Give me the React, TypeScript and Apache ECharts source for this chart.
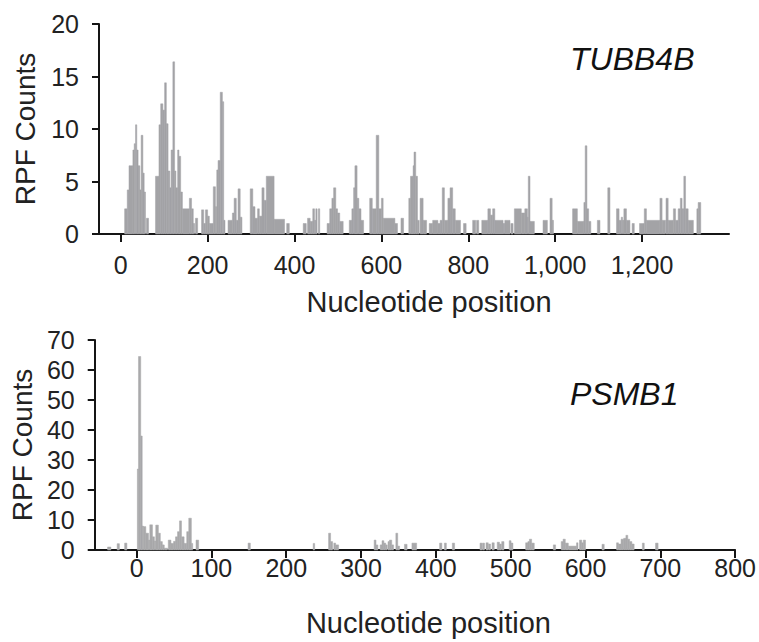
import React, { useEffect, useRef } from "react";
import * as echarts from "echarts";

// Tick values
const tubbTicks = [0, 200, 400, 600, 800, 1000, 1200];
const psmbTicks = [0, 100, 200, 300, 400, 500, 600, 700, 800];

// Gene names
const topGene = "TUBB4B";
const bottomGene = "PSMB1";

// RPF counts for TUBB4B: [start nt, end nt, count]
const tubbCounts: [number, number, number][] = [
  [9, 15, 2.4], [15, 19, 4.2], [19, 28, 6.5], [28, 31, 8.0], [31, 34, 8.6], [34, 37, 10.4], [37, 40, 8.0],
  [40, 44, 6.5], [44, 47, 4.2], [47, 51, 9.4], [51, 54, 5.8], [54, 57, 4.0], [59, 64, 1.5],
  [80, 88, 5.5], [88, 92, 10.4], [92, 97, 12.4], [97, 101, 11.8], [101, 105, 14.4], [105, 109, 10.5],
  [109, 113, 6.0], [113, 116, 4.4], [116, 120, 8.0], [120, 124, 16.4], [124, 127, 6.0], [127, 131, 4.4],
  [131, 134, 8.0], [134, 138, 7.4], [138, 142, 4.0], [142, 158, 2.4], [158, 163, 3.4], [163, 167, 2.4],
  [167, 170, 1.0], [172, 177, 1.5],
  [186, 191, 2.3], [191, 195, 1.0], [195, 200, 2.3], [200, 204, 1.7], [204, 213, 1.0], [213, 218, 4.5],
  [218, 221, 2.6], [221, 224, 6.1], [224, 229, 7.0], [229, 234, 13.5], [234, 237, 12.6], [237, 240, 1.3],
  [247, 257, 1.3], [257, 261, 2.0], [261, 266, 3.4], [266, 270, 1.3], [270, 275, 4.3], [275, 279, 1.6],
  [298, 304, 4.3], [304, 309, 2.6], [309, 315, 1.5], [315, 319, 2.4], [319, 325, 1.7], [325, 330, 4.4],
  [330, 335, 3.2], [335, 353, 5.5], [353, 377, 1.4], [382, 388, 1.0],
  [420, 427, 1.0], [430, 436, 1.5], [436, 442, 1.2], [442, 446, 2.4], [446, 449, 1.3], [449, 452, 2.4],
  [455, 458, 2.4],
  [475, 481, 1.0], [481, 486, 2.4], [486, 490, 3.4], [490, 495, 4.4], [495, 499, 2.4], [499, 504, 2.0],
  [504, 512, 1.2],
  [526, 532, 1.3], [532, 536, 2.4], [536, 539, 4.4], [539, 544, 6.5], [544, 548, 3.4], [548, 553, 2.4],
  [553, 559, 1.3],
  [573, 579, 3.4], [579, 588, 2.4], [588, 594, 9.4], [594, 600, 2.4], [600, 604, 3.4], [604, 631, 1.5],
  [631, 637, 1.0], [645, 651, 1.5],
  [663, 667, 3.4], [667, 673, 5.5], [673, 675, 6.5], [675, 679, 7.8], [679, 683, 5.5], [683, 687, 1.3],
  [689, 696, 3.4], [696, 704, 1.3],
  [710, 718, 1.0], [718, 730, 1.3], [730, 735, 1.0], [735, 740, 1.3], [740, 745, 4.4], [745, 753, 1.3],
  [753, 758, 3.4], [758, 764, 4.4], [764, 770, 2.4], [770, 782, 1.3], [789, 795, 1.0],
  [810, 817, 1.3], [819, 824, 1.3], [831, 845, 1.3], [845, 851, 2.4], [851, 856, 1.8], [856, 861, 2.4],
  [861, 880, 1.3], [880, 884, 1.0], [884, 896, 1.3], [898, 903, 1.0], [906, 922, 2.4], [922, 930, 2.0],
  [930, 936, 2.4], [936, 938, 1.6], [938, 942, 5.5], [942, 952, 1.2],
  [972, 982, 1.3], [988, 993, 3.4], [993, 996, 1.3],
  [1040, 1051, 2.4], [1051, 1066, 1.2], [1066, 1069, 3.0], [1069, 1073, 8.4], [1073, 1077, 2.4],
  [1077, 1082, 1.2], [1097, 1103, 1.3], [1121, 1126, 4.4],
  [1141, 1147, 2.4], [1147, 1152, 1.3], [1152, 1155, 1.6], [1155, 1158, 1.3], [1158, 1164, 2.4],
  [1164, 1172, 1.3], [1177, 1182, 1.0],
  [1194, 1205, 1.0], [1205, 1210, 2.4], [1210, 1241, 1.3], [1241, 1246, 3.4], [1246, 1254, 1.3],
  [1255, 1260, 3.4], [1260, 1272, 1.3], [1272, 1277, 2.4], [1277, 1283, 1.3], [1283, 1288, 2.4],
  [1288, 1292, 3.4], [1292, 1296, 2.4], [1296, 1300, 5.5], [1300, 1306, 2.4], [1306, 1318, 1.3],
  [1326, 1329, 2.4], [1329, 1335, 3.0],
];

// RPF counts for PSMB1: [start nt, end nt, count]
const psmbCounts: [number, number, number][] = [
  [-38.8, -34.4, 1.0], [-26, -23, 2.1], [-16, -13, 2.3],
  [1, 2.5, 27], [2.5, 5.5, 64.5], [5.5, 7.5, 38], [7.5, 9, 8], [9, 12.3, 7.8], [12.3, 15.9, 5.6],
  [15.9, 17.6, 3.3], [17.6, 21.2, 8.4], [21.2, 23.8, 4.4], [23.8, 25.6, 3.0], [25.6, 29.1, 8.3],
  [29.1, 31.7, 5.6], [31.7, 34.4, 2.8], [34.4, 37, 1.7], [37, 41.4, 0.6], [42.3, 45.9, 3.3],
  [45.9, 49.4, 2.2], [49.4, 52, 2.9], [52, 54.7, 4.4], [54.7, 57.3, 6.1], [57.3, 60, 9.7],
  [60, 63.5, 4.4], [63.5, 67, 2.2], [67, 69.7, 6.1], [69.7, 73.2, 10.6], [73.2, 75, 2.2],
  [79.4, 82.9, 3.3],
  [149, 152, 2.3], [236, 238, 2.2], [256.6, 259.3, 5.6], [259.3, 262, 2.8], [263.6, 266, 2.3],
  [266, 270, 1.7],
  [317.5, 320, 3.3], [320, 322.5, 1.7], [325.5, 328, 1.7], [328, 330.5, 3.1], [330.5, 333, 2.3],
  [333, 335, 1.7], [336, 338, 2.8], [338, 341, 3.3], [341, 343.5, 1.7], [346.5, 349, 5.6],
  [349, 351.5, 1.3], [358, 361.5, 1.9], [368, 374.3, 2.3],
  [405, 408, 2.3], [411.4, 414, 2.3], [422, 425, 2.3],
  [459, 462, 2.3], [462.5, 465, 2.3], [467, 470, 2.4], [470.5, 473, 2.0], [475, 478, 2.4],
  [482, 485, 2.6], [485, 487.5, 2.0], [488, 491, 2.8], [498, 500.5, 3.1], [500.5, 503, 2.3],
  [520, 523, 2.4], [523, 525, 2.8], [525, 528, 3.6], [528, 531.5, 2.3],
  [557, 560, 1.7], [567.5, 570, 2.8], [570, 573, 3.6], [573, 577, 2.3], [577, 588, 1.3],
  [588, 590, 2.4], [592, 595, 3.3], [595, 597, 2.4], [597, 600, 3.3],
  [622, 625, 1.9],
  [641.5, 644, 2.4], [644, 647.5, 2.0], [647.5, 651, 3.6], [651, 654, 3.9], [654, 656.5, 4.9],
  [656.5, 659, 3.6], [659, 662, 2.8], [662, 665, 2.0],
  [676, 678.5, 2.3], [693.6, 697, 2.3],
];

const FONT = "'Liberation Sans', Arial, Helvetica, sans-serif";
const AXIS_COLOR = "#151515";
const TEXT_COLOR = "#222";

function makeRender(color: string) {
  return (params: any, api: any) => {
    const s = api.value(0);
    const e = api.value(1);
    const v = api.value(2);
    const p0 = api.coord([s, v]);
    const p1 = api.coord([e, 0]);
    return {
      type: "rect",
      shape: { x: p0[0], y: p0[1], width: Math.max(p1[0] - p0[0], 0.8), height: p1[1] - p0[1] },
      style: { fill: color, stroke: color, lineWidth: 0.5 },
    };
  };
}

function xAxisCfg(
  gridIndex: number,
  min: number,
  max: number,
  ticks: number[],
  labelMargin: number,
  nameGap: number,
  nameShift: number
) {
  return {
    type: "value" as const,
    gridIndex,
    min,
    max,
    splitLine: { show: false },
    axisLine: { show: true, onZero: false, lineStyle: { color: AXIS_COLOR, width: 2 } },
    axisTick: { show: true, customValues: ticks, length: 8, lineStyle: { color: AXIS_COLOR, width: 2 } },
    axisLabel: {
      customValues: ticks,
      formatter: (v: number) => v.toLocaleString("en-US"),
      fontSize: 25,
      fontFamily: FONT,
      color: TEXT_COLOR,
      margin: labelMargin,
    },
    name: "Nucleotide position",
    nameLocation: "middle" as const,
    nameGap,
    nameTextStyle: { fontSize: 29, fontFamily: FONT, color: TEXT_COLOR, padding: [0, 0, 0, nameShift] },
  };
}

function yAxisCfg(gridIndex: number, max: number, interval: number, nameGap: number) {
  return {
    type: "value" as const,
    gridIndex,
    min: 0,
    max,
    interval,
    splitLine: { show: false },
    axisLine: { show: true, onZero: false, lineStyle: { color: AXIS_COLOR, width: 2 } },
    axisTick: { show: true, length: 7, lineStyle: { color: AXIS_COLOR, width: 2 } },
    axisLabel: { fontSize: 25, fontFamily: FONT, color: TEXT_COLOR, margin: 20 },
    name: "RPF Counts",
    nameLocation: "middle" as const,
    nameGap,
    nameTextStyle: { fontSize: 28, fontFamily: FONT, color: TEXT_COLOR },
  };
}

export default function App() {
  const ref = useRef<HTMLDivElement>(null);
  useEffect(() => {
    const chart = echarts.init(ref.current!, null, { renderer: "svg" });
    chart.setOption({
      animation: false,
      backgroundColor: "#ffffff",
      grid: [
        { left: 99, right: 30, top: 24, bottom: 408 },
        { left: 92, right: 20, top: 340, bottom: 92 },
      ],
      xAxis: [
        xAxisCfg(0, -50, 1400, tubbTicks, 18, 53, 30),
        xAxisCfg(1, -56, 800, psmbTicks, 5, 58, 27),
      ],
      yAxis: [yAxisCfg(0, 20, 5, 60), yAxisCfg(1, 70, 10, 55)],
      graphic: [
        {
          type: "text",
          x: 570,
          y: 59,
          style: {
            text: topGene,
            fontSize: 32,
            fontStyle: "italic",
            fontFamily: FONT,
            fill: "#111",
            textVerticalAlign: "middle",
          },
        },
        {
          type: "text",
          x: 570,
          y: 394,
          style: {
            text: bottomGene,
            fontSize: 32,
            fontStyle: "italic",
            fontFamily: FONT,
            fill: "#111",
            textVerticalAlign: "middle",
          },
        },
      ],
      series: [
        {
          type: "custom",
          xAxisIndex: 0,
          yAxisIndex: 0,
          renderItem: makeRender("#a3a3a6"),
          encode: { x: [0, 1], y: 2 },
          data: tubbCounts,
        },
        {
          type: "custom",
          xAxisIndex: 1,
          yAxisIndex: 1,
          renderItem: makeRender("#a9a9ab"),
          encode: { x: [0, 1], y: 2 },
          data: psmbCounts,
        },
      ],
    });
    return () => chart.dispose();
  }, []);
  return (
    <div
      ref={ref}
      style={{ position: "fixed", left: 0, top: 0, width: 759, height: 642, background: "#fff" }}
    />
  );
}
